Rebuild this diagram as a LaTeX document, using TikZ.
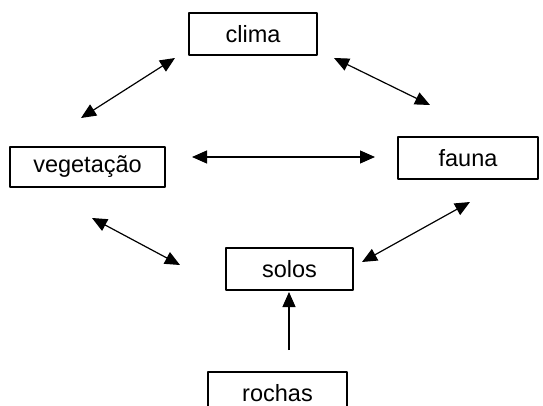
\documentclass[tikz,border=0pt]{standalone}
\usepackage{fontspec}
\setmainfont{Liberation Sans}
\usetikzlibrary{arrows.meta}
\tikzset{
  caixa/.style={draw, line width=1.1pt, inner sep=0pt, font=\fontsize{23.5}{27}\selectfont},
  liga/.style={line width=1.2pt, {Triangle[length=15pt, width=13pt]}-{Triangle[length=15pt, width=13pt]}},
}
\begin{document}
\begin{tikzpicture}[x=1pt, y=-1pt, line join=round, >={Triangle[length=15pt, width=13pt]}]
			\useasboundingbox (0,0) rectangle (543,406);
			\clip (0,0) rectangle (543,406);
			% caixas
			\node[caixa, minimum width=128pt, minimum height=42pt] (clima) at (253,34) {clima};
			\node[caixa, minimum width=155pt, minimum height=40pt] (veg) at (87.5,167) {vegetação};
			\node[caixa, minimum width=140pt, minimum height=42pt] (fauna) at (468,158) {fauna};
			\node[caixa, minimum width=127pt, minimum height=42pt] (solos) at (289.5,269) {solos};
			\node[caixa, minimum width=139pt, minimum height=42pt] (rochas) at (277.5,393) {rochas};
			% pontas das setas
			\coordinate (cv1) at (175,58);  \coordinate (cv2) at (81,118);
			\coordinate (cf1) at (334,58);  \coordinate (cf2) at (430,105);
			\coordinate (vf1) at (192,157); \coordinate (vf2) at (375,157);
			\coordinate (vs1) at (92,218);  \coordinate (vs2) at (180,265);
			\coordinate (fs1) at (470,202); \coordinate (fs2) at (362,262);
			\coordinate (rs1) at (289,350); \coordinate (rs2) at (289,292);
			\draw[liga] (cv1)--(cv2);
			\draw[liga] (cf1)--(cf2);
			\draw[liga] (vf1)--(vf2);
			\draw[liga] (vs1)--(vs2);
			\draw[liga] (fs1)--(fs2);
			\draw[->, line width=1.2pt] (rs1)--(rs2);
		\end{tikzpicture}
\end{document}
